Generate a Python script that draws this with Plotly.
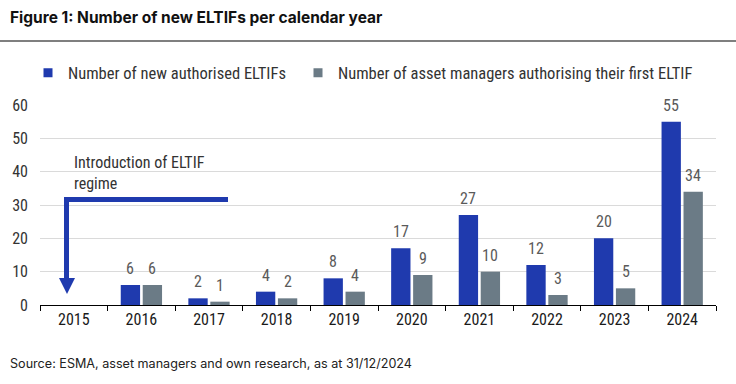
import plotly.graph_objects as go

years = ["2015", "2016", "2017", "2018", "2019", "2020", "2021", "2022", "2023", "2024"]
new_eltifs = [None, 6, 2, 4, 8, 17, 27, 12, 20, 55]
first_managers = [None, 6, 1, 2, 4, 9, 10, 3, 5, 34]
series_names = ["Number of new authorised ELTIFs",
                "Number of asset managers authorising their first ELTIF"]
y_ticks = [0, 10, 20, 30, 40, 50, 60]

BLUE = "#1f3aae"
GREY = "#6b7b86"
FONT = "Roboto Condensed, DejaVu Sans Condensed, sans-serif"

L, R, T, B = 40, 20, 105, 79
W, H = 736, 384
pw = W - L - R
ph = H - T - B
BARGAP, GROUPGAP = 0.35, 0.12


def px_x(p):
    return (p - L) / pw


def px_y(p):
    return (H - B - p) / ph


fig = go.Figure()
series = [(series_names[0], new_eltifs, BLUE, "legend"), (series_names[1], first_managers, GREY, "legend2")]
for name, vals, col, lg in series:
    fig.add_trace(go.Bar(
        x=years, y=vals, name=name, marker=dict(color=col, line=dict(width=0)),
        showlegend=False, legendgroup=name, hoverinfo="x+y+name",
    ))
for name, vals, col, lg in series:
    fig.add_trace(go.Scatter(
        x=[None], y=[None], mode="markers", name=name, legendgroup=name, legend=lg,
        marker=dict(symbol="square", size=9, color=col), showlegend=True,
    ))

# value labels above bars, offset to each bar of the group (x = category index)
cat_px = pw / len(years)
slot_px = cat_px * (1 - BARGAP) / 2
annotations = []
for k, (name, vals, col, lg) in enumerate(series):
    shift = (k - 0.5) * slot_px
    for i, v in enumerate(vals):
        if v is None:
            continue
        annotations.append(dict(x=i, y=v, xref="x", yref="y", text=str(v), showarrow=False,
                                xanchor="center", yanchor="bottom", xshift=shift, yshift=5,
                                font=dict(family=FONT, size=16, color="#5a5a5a")))

shapes = [
    dict(type="line", xref="paper", yref="paper", x0=px_x(0), x1=px_x(736), y0=px_y(41), y1=px_y(41),
         line=dict(color="black", width=1.2)),
    dict(type="line", xref="paper", yref="paper", x0=px_x(64), x1=px_x(228), y0=px_y(199.5), y1=px_y(199.5),
         line=dict(color=BLUE, width=5)),
    dict(type="line", xref="paper", yref="paper", x0=px_x(66.5), x1=px_x(66.5), y0=px_y(197), y1=px_y(280),
         line=dict(color=BLUE, width=5)),
    dict(type="path", xref="paper", yref="paper",
         path=f"M {px_x(59)} {px_y(278)} L {px_x(75)} {px_y(278)} L {px_x(67)} {px_y(294)} Z",
         fillcolor=BLUE, line=dict(width=0)),
]

annotations += [
    dict(text="<b>Figure 1: Number of new ELTIFs per calendar year</b>", xref="paper", yref="paper",
         x=px_x(8), y=px_y(17), xanchor="left", yanchor="middle", showarrow=False,
         font=dict(family="Inter, Liberation Sans, sans-serif", size=15.5, color="#111")),
    dict(text="Source: ESMA, asset managers and own research, as at 31/12/2024", xref="paper", yref="paper",
         x=px_x(8), y=px_y(363), xanchor="left", yanchor="middle", showarrow=False,
         font=dict(family="Inter, Liberation Sans, sans-serif", size=12.6, color="#222")),
    dict(text="Introduction of ELTIF<br>regime", xref="paper", yref="paper",
         x=px_x(72), y=px_y(173), xanchor="left", yanchor="middle", showarrow=False, align="left",
         font=dict(family=FONT, size=16, color="#333")),
]

legend_common = dict(orientation="h", yanchor="middle", xanchor="left", y=px_y(73),
                     font=dict(family=FONT, size=16.5, color="#333"), itemclick=False,
                     bgcolor="rgba(0,0,0,0)", borderwidth=0)

fig.update_layout(
    width=W, height=H, margin=dict(l=L, r=R, t=T, b=B),
    paper_bgcolor="white", plot_bgcolor="white",
    font=dict(family=FONT, size=16, color="#333"),
    barmode="group", bargap=BARGAP, bargroupgap=GROUPGAP,
    showlegend=True,
    legend=dict(x=px_x(28), **legend_common),
    legend2=dict(x=px_x(298), **legend_common),
    shapes=shapes, annotations=annotations,
    xaxis=dict(type="category", categoryorder="array", categoryarray=years,
               range=[-0.5, len(years) - 0.5],
               tickson="boundaries", ticks="outside", ticklen=5, tickcolor="black",
               showline=True, linecolor="black", linewidth=1.2, showgrid=False,
               tickfont=dict(family=FONT, size=16, color="#1a1a1a")),
    yaxis=dict(range=[0, 60], tickvals=y_ticks, showgrid=True, gridcolor="#dadada", gridwidth=1,
               zeroline=False, showline=False, ticks="", ticklabelstandoff=11,
               tickfont=dict(family=FONT, size=16, color="#333")),
)

fig.write_html("out.html", config={"displayModeBar": False},
               post_script="document.body.style.margin='0';")
